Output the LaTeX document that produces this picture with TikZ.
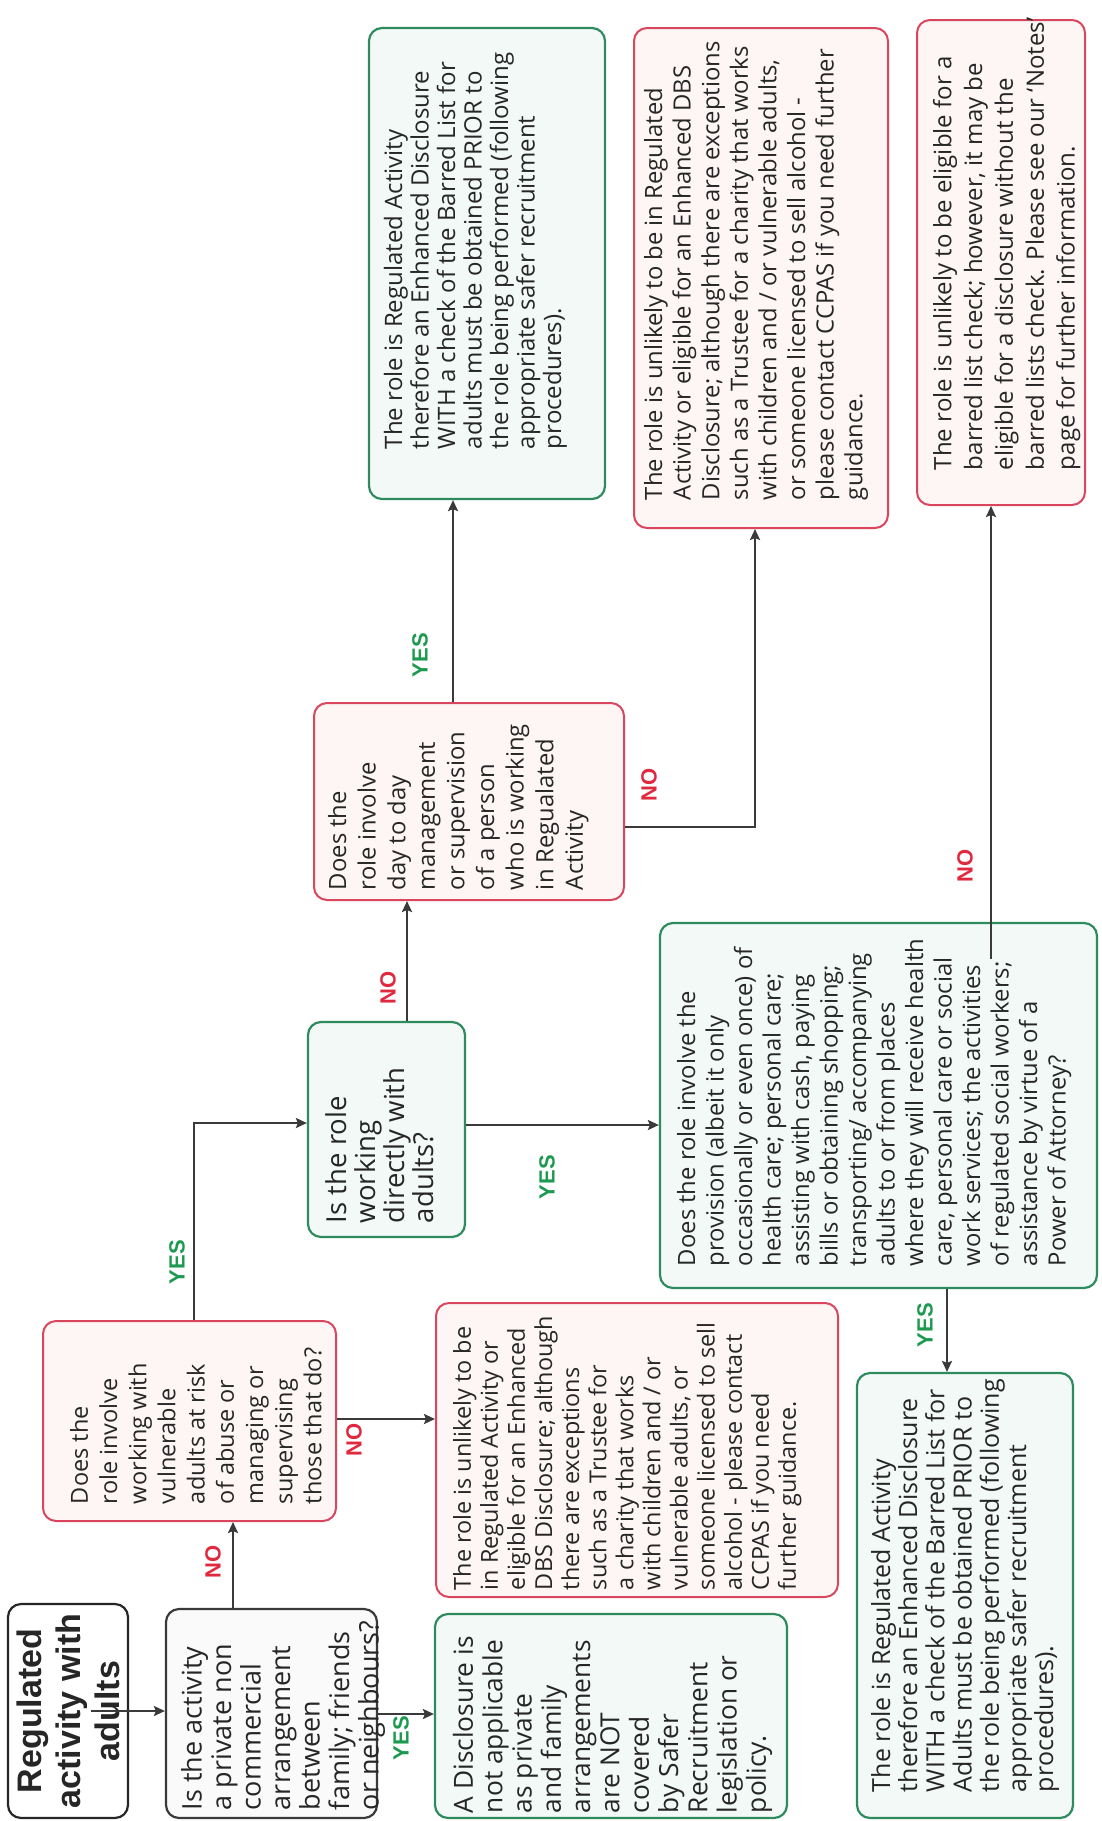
\documentclass[tikz,border=0pt]{standalone}
\usepackage{fontspec}
\setmainfont{Open Sans}
\newfontfamily\labfont{Liberation Sans}
\usetikzlibrary{arrows.meta,calc}
\definecolor{gborder}{HTML}{2E8B5E}
\definecolor{gfill}{HTML}{F2F9F7}
\definecolor{rborder}{HTML}{D9465E}
\definecolor{rfill}{HTML}{FDF6F5}
\definecolor{kborder}{HTML}{3A3A3A}
\definecolor{kfill}{HTML}{FAFAFA}
\definecolor{txt}{HTML}{262626}
\definecolor{yescol}{HTML}{1E9A50}
\definecolor{nocol}{HTML}{E0283F}
\definecolor{arrcol}{HTML}{3A3A3A}
\newcommand\lyn[1]{\mbox{#1}\par}
% W H padT padL size skip text
\newcommand\boxtext[7]{%
\begin{minipage}[c][#2pt][t]{#1pt}%
\fontsize{#5pt}{#6pt}\selectfont\color{txt}%
\parindent=0pt\parskip=0pt\lineskiplimit=-100pt\leftskip=#4pt\rightskip=0pt plus 1fil\relax
\vspace*{#3pt}%
#7%
\end{minipage}}
\begin{document}
\begin{tikzpicture}[x=1pt,y=-1pt,
  basebox/.style={rotate=90, inner sep=0pt, rounded corners=13pt},
  gbox/.style={basebox, draw=gborder, fill=gfill, line width=2.2pt},
  rbox/.style={basebox, draw=rborder, fill=rfill, line width=2pt},
  kbox/.style={basebox, draw=kborder, fill=kfill, line width=2.2pt},
  lab/.style={rotate=90, inner sep=0pt, font=\labfont\bfseries\fontsize{22pt}{24pt}\selectfont},
  yes/.style={lab, text=yescol},
  no/.style={lab, text=nocol},
  arr/.style={draw=arrcol, line width=2.2pt, -{Stealth[length=11pt,width=10pt,inset=2pt]}}]
\useasboundingbox (0,0) rectangle (1102,1821);
\fill[white] (0,0) rectangle (1102,1821);

% boxes
\node[kbox, draw=black!85, fill=white] (A) at (68,1711) {\begin{minipage}[c][120pt][c]{214pt}\centering\labfont\bfseries\fontsize{34pt}{39pt}\selectfont\color{txt}Regulated\\activity with\\adults\end{minipage}};

\node[kbox] (B) at (271.5,1713.5) {\boxtext{209}{211}{15}{8}{27}{29.5}{%
\lyn{Is the activity}\lyn{a private non}\lyn{commercial}\lyn{arrangement}\lyn{between}\lyn{family; friends}\lyn{or neighbours?}}};

\node[rbox] (C) at (189.5,1421) {\boxtext{200}{293}{27}{17}{23.5}{29.2}{%
\lyn{Does the}\lyn{role involve}\lyn{working with}\lyn{vulnerable}\lyn{adults at risk}\lyn{of abuse or}\lyn{managing or}\lyn{supervising}\lyn{those that do?}}};

\node[gbox] (D) at (611,1716) {\boxtext{204}{352}{18}{5}{26.3}{29.3}{%
\lyn{A Disclosure is}\lyn{not applicable}\lyn{as private}\lyn{and family}\lyn{arrangements}\lyn{are NOT}\lyn{covered}\lyn{by Safer}\lyn{Recruitment}\lyn{legislation or}\lyn{policy.}}};

\node[rbox] (E) at (637,1450) {\boxtext{294}{402}{17}{7}{23.4}{27.1}{%
\lyn{The role is unlikely to be}\lyn{in Regulated Activity or}\lyn{eligible for an Enhanced}\lyn{DBS Disclosure; although}\lyn{there are exceptions}\lyn{such as a Trustee for}\lyn{a charity that works}\lyn{with children and / or}\lyn{vulnerable adults, or}\lyn{someone licensed to sell}\lyn{alcohol - please contact}\lyn{CCPAS if you need}\lyn{further guidance.}}};

\node[gbox] (F) at (386.5,1129.5) {\boxtext{215}{157}{17.5}{14}{27.5}{29.2}{%
\lyn{Is the role}\lyn{working}\lyn{directly with}\lyn{adults?}}};

\node[rbox] (G) at (469,801.5) {\boxtext{197}{310}{14}{10}{23.8}{29.6}{%
\lyn{Does the}\lyn{role involve}\lyn{day to day}\lyn{management}\lyn{or supervision}\lyn{of a person}\lyn{who is working}\lyn{in Regualated}\lyn{Activity}}};

\node[gbox] (H) at (487,263.5) {\boxtext{471}{236}{15}{50}{24}{26.5}{%
\lyn{The role is Regulated Activity}\lyn{therefore an Enhanced Disclosure}\lyn{WITH a check of the Barred List for}\lyn{adults must be obtained PRIOR to}\lyn{the role being performed (following}\lyn{appropriate safer recruitment}\lyn{procedures).}}};

\node[rbox] (I) at (761,278) {\boxtext{500}{254}{10}{28}{23.8}{28.6}{%
\lyn{The role is unlikely to be in Regulated}\lyn{Activity or eligible for an Enhanced DBS}\lyn{Disclosure; although there are exceptions}\lyn{such as a Trustee for a charity that works}\lyn{with children and / or vulnerable adults,}\lyn{or someone licensed to sell alcohol -}\lyn{please contact CCPAS if you need further}\lyn{guidance.}}};

\node[gbox] (J) at (878.5,1105.5) {\boxtext{365}{437}{17}{22}{23.8}{28.5}{%
\lyn{Does the role involve the}\lyn{provision (albeit it only}\lyn{occasionally or even once) of}\lyn{health care; personal care;}\lyn{assisting with cash, paying}\lyn{bills or obtaining shopping;}\lyn{transporting/ accompanying}\lyn{adults to or from places}\lyn{where they will receive health}\lyn{care, personal care or social}\lyn{work services; the activities}\lyn{of regulated social workers;}\lyn{assistance by virtue of a}\lyn{Power of Attorney?}}};

\node[gbox] (K) at (965,1595.5) {\boxtext{445}{216}{14}{26}{25}{27.2}{%
\lyn{The role is Regulated Activity}\lyn{therefore an Enhanced Disclosure}\lyn{WITH a check of the Barred List for}\lyn{Adults must be obtained PRIOR to}\lyn{the role being performed (following}\lyn{appropriate safer recruitment}\lyn{procedures).}}};

\node[rbox] (L) at (1001,262.5) {\boxtext{485}{168}{16}{35}{24}{30.8}{%
\lyn{The role is unlikely to be eligible for a}\lyn{barred list check; however, it may be}\lyn{eligible for a disclosure without the}\lyn{barred lists check. Please see our ‘Notes’}\lyn{page for further information.}}};

% connectors
\draw[arr] ($(A.south)+(-38,0)$) -- (B.north |- A.south);
\draw[arr] (B.east -| 233,0) -- (C.west -| 233,0);
\node[no] (n1) at (213,1562) {NO};
\draw[arr] (B.south |- 0,1714) -- (D.north |- 0,1714);
\node[yes] (y1) at (401,1738) {YES};
\draw[arr] (C.south |- 0,1419) -- (E.north |- 0,1419);
\node[no] (n2) at (354,1440) {NO};
\draw[arr] (C.east -| 194,0) |- (F.north |- 0,1123);
\node[yes] (y2) at (177,1262) {YES};
\draw[arr] (F.east -| 407,0) -- (G.west -| 407,0);
\node[no] (n3) at (388,988) {NO};
\draw[arr] (F.south |- 0,1125) -- (J.north |- 0,1125);
\node[yes] (y3) at (547,1177) {YES};
\draw[arr] (G.east -| 453,0) -- (H.west -| 453,0);
\node[yes] (y4) at (420,655) {YES};
\draw[arr] (G.south |- 0,827) -| (I.west -| 755,0);
\node[no] (n4) at (649,785) {NO};
\draw[arr] (J.west -| 947,0) -- (K.east -| 947,0);
\node[yes] (y5) at (925,1325) {YES};
\draw[arr] ($(J.east -| 991,0)+(0,37)$) -- (L.west -| 991,0);
\node[no] (n5) at (965,866) {NO};
\end{tikzpicture}
\end{document}
